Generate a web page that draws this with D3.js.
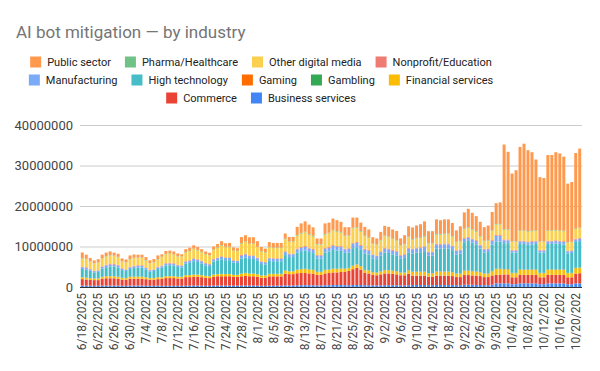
<!DOCTYPE html>
<html>
<head>
<meta charset="utf-8">
<script src="https://cdn.jsdelivr.net/npm/d3@7"></script>
<style>
	body { margin: 0; background: #fff; }
	svg text { font-family: Roboto, Arial, sans-serif; }
</style>
</head>
<body>
<div class="container"></div>
<script>

// stack order, bottom to top
const industries = ["Business services", "Commerce", "Financial services", "Gambling", "Gaming",
	"High technology", "Manufacturing", "Nonprofit/Education", "Other digital media",
	"Pharma/Healthcare", "Public sector"];

const palette = ["#4285f4", "#ea4335", "#fbbc04", "#34a853", "#ff6d01",
	"#46bdc6", "#7baaf7", "#f07b72", "#fcd04f", "#71c287", "#ff994d"];

const firstDay = new Date(2025, 5, 18);

// daily values, in millions
const businessServices = [
	.35,.35,.33,.3,.3,.35,.36,.36,.35,.35,.32,.3,.34,.35,.35,.35,.33,.3,.3,.34,
	.3,.3,.3,.3,.3,.3,.33,.33,.35,.35,.33,.3,.3,.35,.35,.36,.36,.36,.33,.33,
	.35,.35,.35,.35,.33,.3,.3,.33,.33,.33,.33,.4,.38,.38,.4,.45,.45,.45,.42,.38,.38,
	.45,.45,.5,.5,.5,.45,.45,.5,.5,.5,.45,.45,.4,.4,.42,.45,.45,.45,.42,.4,.4,.45,
	.5,.5,.5,.5,.45,.45,.5,.5,.5,.5,.5,.45,.45,.55,.55,.55,.5,.5,.45,.45,.55,
	.9,.9,.9,.9,.7,.7,.9,.9,.9,.9,.9,.7,.7,.9,.9,.9,.9,.9,.7,.7,.9,.9];

const commerce = [
	1.6,1.5,1.4,1.4,1.4,1.7,1.8,1.8,1.8,1.7,1.5,1.5,1.7,1.7,1.7,1.7,1.6,1.5,1.5,1.6,
	1.7,1.9,1.9,1.9,1.8,1.8,2.1,2.1,2.2,2.2,2.1,2.0,1.9,2.2,2.3,2.3,2.3,2.3,2.2,2.2,
	2.3,2.4,2.3,2.3,2.2,2.0,2.0,2.3,2.3,2.3,2.3,2.9,2.8,2.8,3.0,3.0,3.0,2.9,2.9,2.6,2.6,
	2.9,3.0,3.1,3.1,3.2,3.3,3.5,3.9,4.2,3.8,3.0,2.9,2.6,2.5,2.7,2.9,2.9,2.8,2.7,2.5,2.5,2.8,
	2.3,2.3,2.3,2.3,2.1,2.1,2.3,2.3,2.3,2.3,2.2,2.0,2.0,2.4,2.4,2.3,2.3,2.2,2.0,2.0,2.3,
	2.1,2.1,2.2,2.2,1.7,1.7,2.1,2.1,2.1,2.1,2.1,1.7,1.7,2.1,2.1,2.1,2.1,2.1,1.7,1.7,2.4,2.5];

const financialServices = [
	.4,.4,.4,.35,.35,.4,.45,.45,.45,.42,.4,.38,.42,.45,.45,.45,.4,.38,.38,.42,
	.35,.4,.4,.4,.38,.38,.42,.45,.45,.45,.42,.4,.4,.45,.45,.5,.48,.48,.42,.42,
	.6,.65,.6,.6,.55,.5,.5,.55,.55,.55,.55,.7,.65,.65,.8,.9,.95,.9,.85,.7,.7,
	.8,.8,.85,.8,.8,.7,.7,.8,.8,.75,.7,.7,.6,.6,.65,.75,.75,.7,.7,.6,.6,.8,
	.9,.9,.9,.95,.8,.8,.95,.95,.95,.95,.9,.8,.8,1.0,1.0,1.0,.95,.9,.8,.8,1.0,
	1.4,1.4,1.2,1.2,1.0,1.0,1.2,1.2,1.2,1.2,1.2,1.0,1.0,1.2,1.2,1.2,1.2,1.2,1.0,1.0,1.3,1.3];

const gambling = [
	.03,.03,.03,.02,.02,.03,.03,.03,.03,.03,.02,.02,.03,.03,.03,.03,.03,.02,.02,.03,
	.03,.03,.03,.03,.02,.02,.03,.03,.03,.03,.03,.02,.02,.03,.03,.03,.03,.03,.02,.02,
	.03,.03,.03,.03,.03,.02,.02,.03,.03,.03,.03,.03,.02,.02,.04,.04,.04,.04,.04,.03,.03,
	.04,.04,.04,.04,.04,.03,.03,.04,.04,.04,.04,.04,.03,.03,.04,.04,.04,.04,.04,.03,.03,.04,
	.04,.04,.04,.04,.03,.03,.04,.04,.04,.04,.04,.03,.03,.05,.05,.05,.04,.04,.03,.03,.05,
	.05,.05,.05,.05,.04,.04,.05,.05,.05,.05,.05,.04,.04,.05,.05,.05,.05,.05,.04,.04,.05,.05];

const gaming = [
	.05,.05,.05,.04,.04,.05,.05,.05,.05,.05,.04,.04,.05,.05,.05,.05,.05,.04,.04,.05,
	.05,.05,.05,.05,.04,.04,.05,.05,.05,.05,.05,.04,.04,.05,.05,.05,.05,.05,.04,.04,
	.05,.05,.05,.05,.05,.04,.04,.05,.05,.05,.05,.05,.04,.04,.06,.06,.06,.06,.06,.05,.05,
	.06,.06,.06,.06,.06,.05,.05,.06,.06,.06,.06,.06,.05,.05,.06,.06,.06,.06,.06,.05,.05,.06,
	.06,.06,.06,.06,.05,.05,.06,.06,.06,.06,.06,.05,.05,.07,.07,.07,.06,.06,.05,.05,.07,
	.08,.08,.08,.08,.06,.06,.08,.08,.08,.08,.08,.06,.06,.08,.08,.08,.08,.08,.06,.06,.08,.08];

const highTechnology = [
	2.0,2.0,1.8,1.5,1.6,2.0,2.2,2.4,2.4,2.3,1.9,1.7,1.9,2.1,2.2,2.2,1.9,1.6,1.7,2.0,
	2.3,2.6,2.7,2.6,2.4,2.3,2.8,3.0,3.3,3.1,2.9,2.6,2.5,3.2,3.4,3.6,3.4,3.4,3.0,2.9,
	3.7,3.8,3.6,3.6,3.3,2.8,2.7,3.2,3.1,3.1,3.1,3.8,3.5,3.5,4.2,4.4,4.5,4.3,4.1,3.3,3.3,
	4.3,4.4,4.6,4.5,4.3,3.9,3.8,4.3,4.2,4.0,4.0,3.9,3.4,3.3,3.9,4.3,4.2,4.0,3.9,3.4,3.6,4.3,
	4.5,4.7,4.8,5.0,4.3,4.3,5.6,5.6,5.7,5.7,5.4,4.7,4.9,7.0,7.3,7.0,6.7,5.8,5.2,5.3,6.5,
	6.7,6.7,6.4,6.4,5.0,5.0,6.3,6.3,6.1,6.2,6.3,5.0,5.0,6.3,6.3,6.4,6.3,6.2,4.8,4.9,6.4,6.5];

const manufacturing = [
	.45,.4,.35,.3,.3,.4,.45,.45,.45,.45,.35,.3,.4,.4,.45,.45,.4,.3,.3,.4,
	.4,.45,.45,.45,.4,.4,.5,.5,.55,.5,.5,.45,.4,.5,.55,.6,.55,.55,.5,.5,
	.7,.75,.7,.7,.65,.55,.5,.6,.6,.6,.6,.75,.7,.7,.8,.85,.9,.85,.8,.7,.7,
	.9,.9,1.0,.95,.95,.85,.85,1.1,1.1,1.0,.95,.9,.8,.75,.85,.95,.9,.9,.85,.75,.8,.95,
	1.0,1.0,1.0,1.0,.85,.85,1.0,1.0,1.0,1.0,.95,.85,.85,.8,.8,.8,.8,.75,.7,.7,.9,
	1.4,1.4,.7,.7,.5,.5,.6,.6,.6,.6,.6,.5,.5,.6,.6,.6,.6,.6,.5,.5,.6,.6];

const nonprofitEducation = [
	.15,.15,.12,.1,.1,.15,.15,.15,.15,.15,.12,.1,.15,.15,.15,.15,.12,.1,.1,.15,
	.15,.15,.15,.15,.12,.12,.15,.15,.15,.15,.15,.12,.12,.15,.15,.15,.15,.15,.12,.12,
	.18,.18,.18,.18,.15,.12,.12,.15,.15,.15,.15,.18,.15,.15,.2,.2,.2,.2,.2,.15,.15,
	.2,.2,.2,.2,.2,.18,.18,.2,.2,.2,.2,.2,.15,.15,.18,.2,.2,.2,.18,.15,.15,.2,
	.2,.2,.2,.2,.18,.18,.2,.2,.2,.2,.2,.18,.18,.2,.2,.2,.2,.2,.18,.18,.2,
	.2,.2,.2,.2,.15,.15,.2,.2,.2,.2,.2,.15,.15,.2,.2,.2,.2,.2,.15,.15,.2,.2];

const otherDigitalMedia = [
	2.0,2.0,1.8,1.8,1.9,1.9,2.0,2.1,2.0,1.9,1.6,1.7,1.8,1.9,1.8,1.8,1.7,1.6,1.7,1.8,
	2.1,2.2,2.2,2.1,2.1,2.1,2.1,2.2,2.3,2.2,2.1,2.1,2.1,2.2,2.4,2.6,2.5,2.5,2.3,2.3,
	2.8,2.9,2.8,2.8,2.6,2.4,2.3,2.6,2.5,2.5,2.5,3.0,2.9,2.9,3.2,3.3,3.4,3.2,3.1,2.6,2.6,
	3.3,3.4,3.6,3.5,3.4,3.1,3.1,3.6,3.5,3.3,3.2,3.0,2.6,2.6,2.7,2.9,2.8,2.7,2.6,2.3,2.4,2.7,
	2.2,2.3,2.3,2.4,2.0,2.0,2.3,2.3,2.3,2.3,2.2,2.0,2.0,2.2,2.3,2.2,2.1,2.0,1.9,1.9,2.3,
	2.6,2.6,2.4,2.4,2.0,2.0,2.4,2.4,2.4,2.4,2.4,2.0,2.0,2.4,2.4,2.4,2.4,2.4,2.0,2.0,2.4,2.4];

const pharmaHealthcare = [
	.1,.1,.1,.06,.06,.1,.1,.1,.1,.1,.06,.06,.1,.1,.1,.1,.1,.06,.06,.1,
	.1,.1,.1,.1,.08,.08,.1,.1,.12,.12,.1,.08,.08,.12,.12,.12,.12,.12,.1,.1,
	.12,.12,.12,.12,.1,.1,.1,.12,.12,.12,.12,.15,.12,.12,.15,.15,.15,.15,.15,.12,.12,
	.15,.15,.15,.15,.15,.12,.12,.15,.15,.15,.15,.15,.12,.12,.12,.15,.15,.15,.12,.12,.12,.15,
	.15,.15,.15,.15,.12,.12,.15,.15,.15,.15,.15,.12,.12,.15,.15,.15,.15,.15,.12,.12,.15,
	.15,.15,.15,.15,.12,.12,.15,.15,.15,.15,.15,.12,.12,.15,.15,.15,.15,.15,.12,.12,.15,.15];

const publicSector = [
	1.4,1.0,.8,.7,.8,.9,.9,.9,.7,.75,.75,.7,.9,.8,.7,.7,.75,.7,.8,.9,
	.6,.7,.7,.7,.65,.55,.75,.8,.8,.75,.65,.65,.6,.75,.8,1.0,.85,.95,.75,.65,
	1.5,1.55,1.55,1.55,1.35,1.05,.9,1.15,1.15,1.15,1.15,1.25,1.1,1.1,2.0,2.35,2.55,2.35,2.1,1.35,1.35,
	2.6,2.5,2.8,2.7,2.5,2.1,2.0,2.5,2.4,2.1,2.1,1.9,1.55,1.5,2.0,2.4,2.4,2.2,2.25,1.7,2.15,2.55,
	2.85,3.05,3.25,3.6,2.9,2.9,3.6,3.4,3.5,3.5,3.2,2.8,3.6,4.0,4.5,4.0,3.7,3.5,3.35,3.65,4.5,
	5.1,5.3,20.9,19.1,16.75,17.55,20.6,21.4,20.0,19.4,17.5,15.85,15.65,18.6,18.6,19.2,19.0,18.3,14.45,14.75,18.6,19.5];

const yTicks = [0, 10000000, 20000000, 30000000, 40000000];
const legendRows = [
	["Public sector", "Pharma/Healthcare", "Other digital media", "Nonprofit/Education"],
	["Manufacturing", "High technology", "Gaming", "Gambling", "Financial services"],
	["Commerce", "Business services"]
];

const seriesValues = [businessServices, commerce, financialServices, gambling, gaming,
	highTechnology, manufacturing, nonprofitEducation, otherDigitalMedia, pharmaHealthcare, publicSector];

const MILLION = 1e6;
const width = 600, height = 371;
const plot = { left: 80, right: 582, top: 125, bottom: 287 };

const formatDay = d3.timeFormat("%-m/%-d/%Y");

const rows = businessServices.map((_, i) => {
	const row = { day: d3.timeDay.offset(firstDay, i) };
	industries.forEach((name, k) => { row[name] = seriesValues[k][i] * MILLION; });
	return row;
});

const color = d3.scaleOrdinal().domain(industries).range(palette);

const svg = d3.select(".container")
	.append("svg")
		.attr("width", width)
		.attr("height", height);

svg.append("text")
	.attr("x", 16)
	.attr("y", 38)
	.attr("fill", "#757575")
	.attr("font-size", 17)
	.text("AI bot mitigation — by industry");

const x = d3.scaleBand()
	.domain(rows.map(d => d.day))
	.range([plot.left, plot.right])
	.paddingInner(0.25)
	.paddingOuter(0.2);

const y = d3.scaleLinear()
	.domain([0, 40000000])
	.range([plot.bottom, plot.top]);

// grid + y labels
const yAxis = svg.append("g")
	.attr("transform", `translate(${plot.left}, 0)`)
	.call(d3.axisLeft(y)
		.tickValues(yTicks)
		.tickFormat(d3.format("d"))
		.tickSize(-(plot.right - plot.left))
		.tickPadding(7));

yAxis.select(".domain").remove();
yAxis.selectAll(".tick line").attr("stroke", "#cccccc");
yAxis.selectAll(".tick text")
	.attr("fill", "#444")
	.attr("font-size", 13);

const stacked = d3.stack().keys(industries)(rows);

svg.append("g")
	.selectAll("g")
	.data(stacked)
		.enter()
	.append("g")
		.attr("fill", s => color(s.key))
	.selectAll("rect")
	.data(s => s)
		.enter()
	.append("rect")
		.attr("x", d => x(d.data.day))
		.attr("width", x.bandwidth())
		.attr("y", d => y(d[1]))
		.attr("height", d => Math.max(0, y(d[0]) - y(d[1])));

svg.append("line")
	.attr("x1", plot.left)
	.attr("x2", plot.right)
	.attr("y1", plot.bottom + 0.5)
	.attr("y2", plot.bottom + 0.5)
	.attr("stroke", "#333");

// x labels, every fourth day
const xAxis = svg.append("g")
	.attr("transform", `translate(0, ${plot.bottom})`)
	.call(d3.axisBottom(x)
		.tickValues(x.domain().filter((d, i) => i % 4 === 0))
		.tickFormat(d => formatDay(d).slice(0, 9))
		.tickSize(0)
		.tickPadding(0));

xAxis.select(".domain").remove();
xAxis.selectAll(".tick text")
	.attr("fill", "#444")
	.attr("font-size", 12)
	.attr("transform", "rotate(-90)")
	.attr("text-anchor", "end")
	.attr("x", -6)
	.attr("y", 0)
	.attr("dy", "0.35em");

// legend, centred rows
const legendCenter = 261;
const legendY = [62, 80, 98];

legendRows.forEach((names, r) => {
	const row = svg.append("g");
	let cursor = 0;
	names.forEach(name => {
		const item = row.append("g").attr("transform", `translate(${cursor}, 0)`);
		item.append("rect")
			.attr("y", -5.5)
			.attr("width", 11)
			.attr("height", 11)
			.attr("fill", color(name));
		const label = item.append("text")
			.attr("x", 17)
			.attr("dy", "0.35em")
			.attr("font-size", 11)
			.attr("fill", "#222")
			.text(name);
		cursor += 17 + label.node().getComputedTextLength() + 14;
	});
	const rowWidth = cursor - 14;
	row.attr("transform", `translate(${legendCenter - rowWidth / 2}, ${legendY[r]})`);
});

</script>
</body>
</html>
